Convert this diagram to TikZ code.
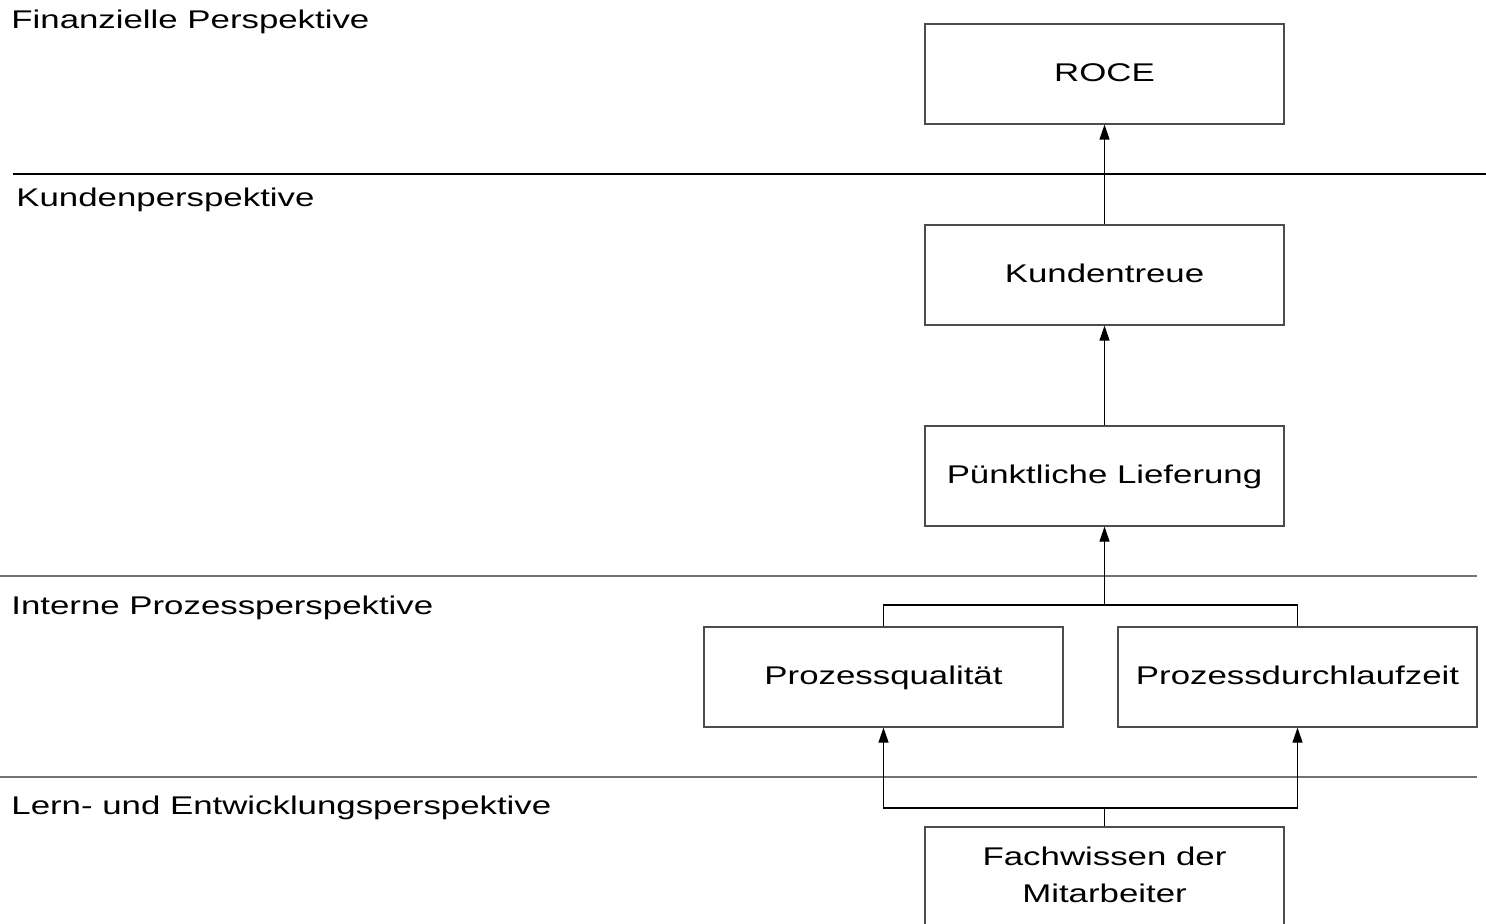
\documentclass[tikz,border=0pt]{standalone}
\usepackage{fontspec}
\setmainfont{Liberation Sans}
\usetikzlibrary{arrows.meta}

\newcommand{\wide}[1]{\scalebox{1.36}[1]{\strut #1}}

\tikzset{
  goal/.style={draw=black!70,line width=0.6pt,minimum width=179.5pt,minimum height=50pt,
    inner sep=0pt,font=\fontsize{12.8}{18.5}\selectfont},
  persp/.style={anchor=base west,inner sep=0pt,font=\fontsize{12.8}{14}\selectfont},
  link/.style={line width=0.6pt},
  arr/.style={link,-{Triangle[length=7.5pt,width=5pt]}},
  sep/.style={line width=0.6pt}
}

\begin{document}
\begin{tikzpicture}[x=0.5pt,y=-0.5pt]
        \useasboundingbox (0,0) rectangle (1486,924);
        % perspectives
        \node[persp] (fin) at (11,29) {\wide{Finanzielle Perspektive}};
        \node[persp] (kun) at (16,207) {\wide{Kundenperspektive}};
        \node[persp] (int) at (11,614) {\wide{Interne Prozessperspektive}};
        \node[persp] (ler) at (11,814) {\wide{Lern- und Entwicklungsperspektive}};
        \draw[sep] (13,174) -- (1486,174);
        \draw[sep,black!55] (0,576) -- (1477,576);
        \draw[sep,black!55] (0,777) -- (1477,777);
        % goals
        \node[goal] (roce) at (1104.5,74) {\wide{ROCE}};
        \node[goal] (treue) at (1104.5,275) {\wide{Kundentreue}};
        \node[goal] (liefer) at (1104.5,476) {\wide{P\"unktliche Lieferung}};
        \node[goal] (qual) at (883.5,677) {\wide{Prozessqualit\"at}};
        \node[goal] (zeit) at (1297.5,677) {\wide{Prozessdurchlaufzeit}};
        \node[goal] (wissen) at (1104.5,877) {\wide{\begin{tabular}{@{}c@{}}Fachwissen der\\Mitarbeiter\end{tabular}}};
        \coordinate (j1) at (1104.5,605);
        \coordinate (j2) at (1104.5,808);
        % links
        \draw[arr] (treue) -- (roce);
        \draw[arr] (liefer) -- (treue);
        \draw[link] (qual.north) |- (j1) -| (zeit.north);
        \draw[arr] (j1) -- (liefer);
        \draw[link] (wissen) -- (j2);
        \draw[arr] (j2) -| (qual.south);
        \draw[arr] (j2) -| (zeit.south);
    \end{tikzpicture}
\end{document}
